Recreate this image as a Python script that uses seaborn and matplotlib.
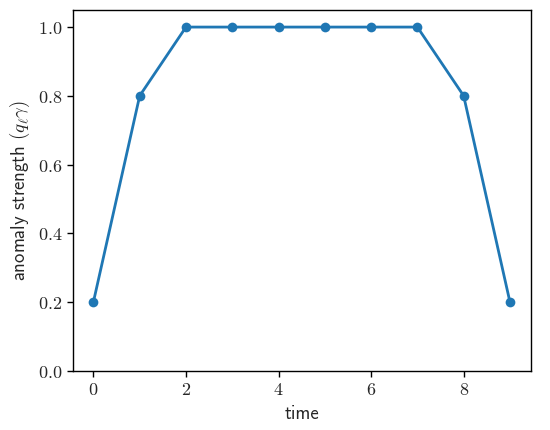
import numpy as np
import pandas as pd
import matplotlib
matplotlib.use("Agg")
import matplotlib.pyplot as plt
import seaborn as sns

# ── data ──────────────────────────────────────────────
time = [0, 1, 2, 3, 4, 5, 6, 7, 8, 9]
strength = [0.2, 0.8, 1.0, 1.0, 1.0, 1.0, 1.0, 1.0, 0.8, 0.2]
yticks = [0.0, 0.2, 0.4, 0.6, 0.8, 1.0]
xticks = [0, 2, 4, 6, 8]

sns.set_style("ticks")
plt.rcParams["mathtext.fontset"] = "cm"
plt.rcParams["axes.unicode_minus"] = False

df = pd.DataFrame({"time": time, "strength": strength})

fig, ax = plt.subplots(figsize=(5.5, 4.3), dpi=100)
sns.lineplot(data=df, x="time", y="strength", ax=ax, color="#1f77b4",
             linewidth=2, marker="o", markersize=7, markeredgewidth=0)

ax.set_ylim(0, 1.05)
ax.set_xticks(xticks)
ax.set_yticks(yticks)
ax.set_xticklabels([f"${t}$" for t in xticks], fontsize=13)
ax.set_yticklabels([f"${v:.1f}$" for v in yticks], fontsize=13)
ax.set_xlabel("time", fontsize=13.5, family="cmss10")
ax.set_ylabel(r"anomaly strength $(q_\ell\gamma)$", fontsize=13.5, family="cmss10")
for s in ax.spines.values():
    s.set_linewidth(1.0)
    s.set_color("black")
ax.tick_params(length=4, width=1, color="black")

fig.subplots_adjust(left=0.132, right=0.965, top=0.977, bottom=0.138)
fig.savefig("out.png", dpi=100)
